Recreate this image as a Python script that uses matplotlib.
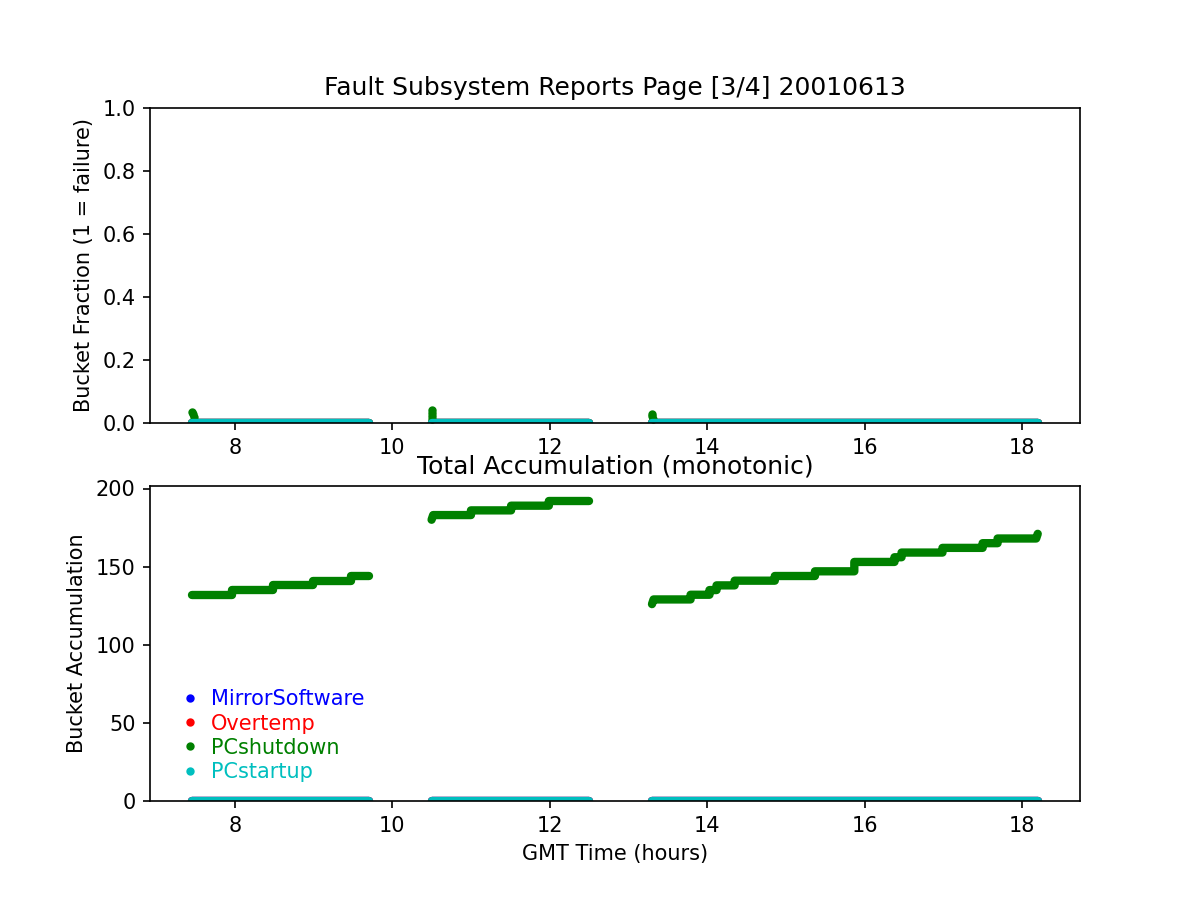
import numpy as np
import matplotlib
matplotlib.use("Agg")
import matplotlib.pyplot as plt
from matplotlib.lines import Line2D

# buckets and their colours
names = ["MirrorSoftware", "Overtemp", "PCshutdown", "PCstartup"]
colors = ["b", "r", "g", "c"]

# data segments (GMT hours) where reports exist
seg_start = [7.46, 10.50, 13.30]
seg_end = [9.70, 12.50, 18.20]

# PCshutdown fraction spikes at the start of each segment
spike_t = [7.46, 7.47, 7.48, 10.50, 10.50, 10.51, 10.51, 13.30, 13.30, 13.31]
spike_v = [0.035, 0.028, 0.020, 0.042, 0.032, 0.022, 0.012, 0.030, 0.022, 0.012]

# PCshutdown accumulation, one level per step: (segment, start, end, value)
acc_seg = [0, 0, 0, 0, 0,
           1, 1, 1, 1, 1,
           2, 2, 2, 2, 2, 2, 2, 2, 2, 2, 2, 2, 2, 2, 2, 2]
acc_t0 = [7.46, 7.97, 8.48, 8.99, 9.47,
          10.50, 10.52, 11.00, 11.51, 11.99,
          13.30, 13.32, 13.79, 14.03, 14.12, 14.35, 14.86, 15.37, 15.87,
          16.38, 16.47, 16.99, 17.50, 17.69, 18.20, 18.20]
acc_t1 = [7.97, 8.48, 8.99, 9.47, 9.70,
          10.50, 11.00, 11.51, 11.99, 12.50,
          13.30, 13.79, 14.03, 14.12, 14.35, 14.86, 15.37, 15.87, 16.38,
          16.47, 16.99, 17.50, 17.69, 18.18, 18.20, 18.20]
acc_v = [132, 135, 138, 141, 144,
         180, 183, 186, 189, 192,
         126, 129, 132, 135, 138, 141, 144, 147, 153,
         156, 159, 162, 165, 168, 171, 171]

fig = plt.figure(figsize=(8, 6), dpi=150)
ax1 = fig.add_subplot(2, 1, 1)
ax2 = fig.add_subplot(2, 1, 2)

lw = 4  # same size as the '.' markers of the original

# ---- top: bucket fraction ----
for c in colors:
    for s0, s1 in zip(seg_start, seg_end):
        ax1.plot([s0, s1], [0, 0], color=c, lw=lw, solid_capstyle="round")
    if c == "g":
        ax1.plot(spike_t, spike_v, "g.")
ax1.set_ylim(0, 1)
ax1.set_ylabel("Bucket Fraction (1 = failure)")
ax1.set_title("Fault Subsystem Reports Page [3/4] 20010613", fontsize=12)

# ---- bottom: total accumulation ----
acc_seg = np.array(acc_seg)
acc_t0 = np.array(acc_t0)
acc_t1 = np.array(acc_t1)
acc_v = np.array(acc_v)
for c in colors:
    for k, (s0, s1) in enumerate(zip(seg_start, seg_end)):
        if c == "g":
            m = acc_seg == k
            tt = np.column_stack([acc_t0[m], acc_t1[m]]).ravel()
            vv = np.repeat(acc_v[m], 2)
            ax2.plot(tt, vv, color=c, lw=lw, solid_capstyle="round",
                     solid_joinstyle="round")
        else:
            ax2.plot([s0, s1], [0, 0], color=c, lw=lw, solid_capstyle="round")
ax2.set_ylim(bottom=0)
ax2.set_ylabel("Bucket Accumulation")
ax2.set_xlabel("GMT Time (hours)")
ax2.set_title("Total Accumulation (monotonic)", fontsize=12)

handles = [Line2D([], [], color=c, marker=".", linestyle="none") for c in colors]
leg = ax2.legend(handles, names, loc="lower left", bbox_to_anchor=(0.023, 0.034),
                 frameon=False, borderaxespad=0, handlelength=1.0,
                 handletextpad=0.5, labelspacing=0.2)
for txt, c in zip(leg.get_texts(), colors):
    txt.set_color(c)

fig.savefig("out.png", dpi=150)
